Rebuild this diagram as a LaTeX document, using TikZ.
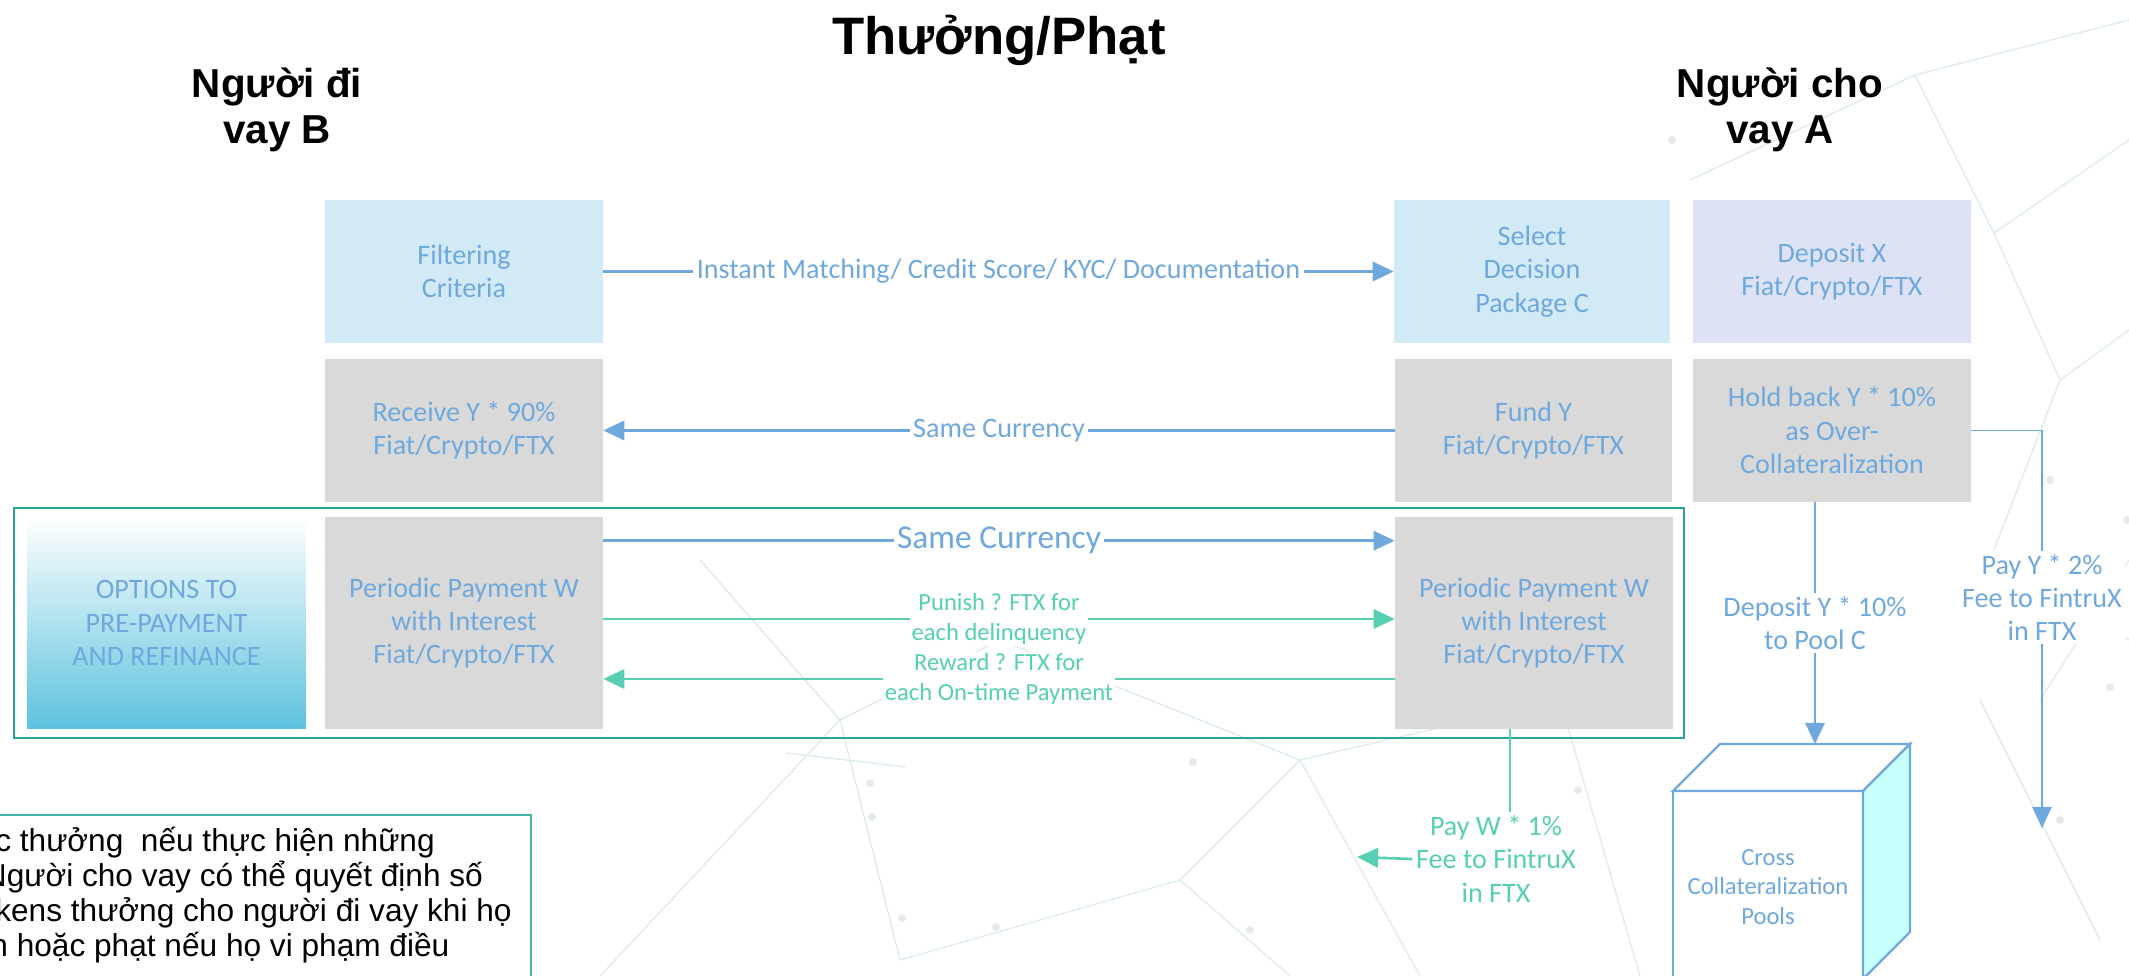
\documentclass[tikz,border=0pt]{standalone}
\usepackage{fontspec}
\setmainfont{Carlito}
\newfontfamily\arialfont{Liberation Sans}
\usetikzlibrary{arrows.meta,positioning,calc}

\definecolor{boxtext}{RGB}{111,168,220}
\definecolor{tealflow}{RGB}{87,207,178}
\definecolor{framegreen}{RGB}{38,166,154}
\definecolor{paleblue}{RGB}{210,233,246}
\definecolor{palelilac}{RGB}{221,227,245}
\definecolor{boxgray}{RGB}{217,217,217}
\definecolor{cubeside}{RGB}{200,255,255}
\definecolor{optcyan}{RGB}{92,194,222}
\definecolor{netline}{RGB}{222,236,234}

\begin{document}
\begin{tikzpicture}[x=0.02cm,y=-0.02cm,
	stepbox/.style={minimum width=5.56cm, minimum height=2.86cm, inner sep=0pt, align=center, text=boxtext, font=\fontsize{16}{19}\selectfont},
	bluebox/.style={stepbox, fill=paleblue},
	lilacbox/.style={stepbox, fill=palelilac},
	graybox/.style={stepbox, fill=boxgray},
	paybox/.style={graybox, minimum height=4.24cm},
	flowlabel/.style={fill=white, inner sep=2pt, align=center, font=\fontsize{16}{19}\selectfont},
	bluearrow/.style={boxtext, line width=1.5pt, -{Triangle[length=12pt,width=11pt]}},
	tealarrow/.style={tealflow, line width=1.5pt, -{Triangle[length=12pt,width=11pt]}},
	heading/.style={align=center, font=\arialfont\bfseries\fontsize{23}{26}\selectfont}]
	\useasboundingbox (0,0) rectangle (2129,976);
	\clip (0,0) rectangle (2129,976);
	% faint network in the background
	\foreach \p/\q in {{(1690,180)}/{(1915,75)}, {(1915,75)}/{(1994,233)}, {(1994,233)}/{(2129,140)}, {(1994,233)}/{(2060,380)}, {(2060,380)}/{(2129,330)}, {(2060,380)}/{(1990,560)}, {(1990,560)}/{(2129,640)}, {(2040,700)}/{(2129,560)}, {(1980,700)}/{(2100,940)}, {(1915,75)}/{(2129,20)},
		{(700,560)}/{(840,720)}, {(840,720)}/{(1000,640)}, {(840,720)}/{(900,960)}, {(900,960)}/{(1180,880)}, {(1180,880)}/{(1300,760)}, {(1180,880)}/{(1290,976)}, {(1300,760)}/{(1560,700)}, {(1000,640)}/{(1300,760)}, {(786,753)}/{(905,767)}, {(1560,700)}/{(1640,976)}, {(600,976)}/{(840,720)}, {(1300,760)}/{(1420,976)}}
		\draw[netline, line width=0.8pt] \p -- \q;
	\foreach \d in {(870,783), (872,817), (902,918), (996,927), (1193,762), (1578,790), (2110,687), (2127,520), (1672,140), (1955,290), (2050,480), (1250,930), (1450,900), (2060,820)}
		\fill[netline!85!black!40] \d circle (4);
	% title and the two sides
	\node[anchor=base, font=\arialfont\bfseries\fontsize{30}{36}\selectfont] (title) at (999,55) {Thưởng/Phạt};
	\node[heading] (borrower) at (277,110) {Người đi\\vay B};
	\node[heading] (lender) at (1780,110) {Người cho\\vay A};
	% boxes
	\node[bluebox] (filter) at (464,271.5) {Filtering\\Criteria};
	\node[bluebox, minimum width=5.52cm] (select) at (1532,271.5) {Select\\Decision\\Package C};
	\node[lilacbox] (depositx) at (1832,271.5) {Deposit X\\Fiat/Crypto/FTX};
	\node[graybox] (receive) at (464,430.5) {Receive Y * 90\%\\Fiat/Crypto/FTX};
	\node[graybox, minimum width=5.54cm] (fund) at (1533.5,430.5) {Fund Y\\Fiat/Crypto/FTX};
	\node[graybox] (holdback) at (1832,430.5) {Hold back Y * 10\%\\as Over-\\Collateralization};
	\draw[framegreen, line width=1.6pt] (14,508) rectangle (1684,738);
	\node[stepbox, minimum height=4.24cm, minimum width=5.58cm, top color=white, middle color=optcyan!28, bottom color=optcyan] (options) at (166.5,623) {OPTIONS TO\\PRE-PAYMENT\\AND REFINANCE};
	\node[paybox] (payleft) at (464,623) {Periodic Payment W\\with Interest\\Fiat/Crypto/FTX};
	\node[paybox] (payright) at (1534,623) {Periodic Payment W\\with Interest\\Fiat/Crypto/FTX};
	% flows between borrower and lender
	\draw[bluearrow] (filter.east) -- node[flowlabel, text=boxtext] {Instant Matching/ Credit Score/ KYC/ Documentation} (select.west);
	\draw[bluearrow] (fund.west) -- node[flowlabel, text=boxtext] {Same Currency} (receive.east);
	\draw[bluearrow] ($(payleft.north east)+(0,24)$) -- node[flowlabel, text=boxtext, font=\fontsize{19}{22}\selectfont] {Same Currency} ($(payright.north west)+(0,24)$);
	\draw[tealarrow] ($(payleft.east)+(0,-4)$) -- node[flowlabel, text=tealflow, font=\fontsize{14}{17}\selectfont, inner sep=1pt] {Punish ? FTX for\\each delinquency} ($(payright.west)+(0,-4)$);
	\draw[tealarrow] ($(payright.west)+(0,56)$) -- node[flowlabel, text=tealflow, font=\fontsize{14}{17}\selectfont, inner sep=1pt] {Reward ? FTX for\\each On-time Payment} ($(payleft.east)+(0,56)$);
	% cross collateralization pool
	\coordinate (cubetop) at (1815,744);
	\draw[boxtext, line width=1.3pt, fill=white] (1673,791) rectangle (1863,1000);
	\draw[boxtext, line width=1.3pt, fill=white] (1673,791) -- (1720,744) -- (1910,744) -- (1863,791) -- cycle;
	\draw[boxtext, line width=1.3pt, fill=cubeside] (1863,791) -- (1910,744) -- (1910,932) -- (1863,979) -- cycle;
	\node[align=center, text=boxtext, font=\fontsize{14}{17}\selectfont] (pool) at (1768,887) {Cross\\Collateralization\\Pools};
	% fees and deposits
	\coordinate (feeend) at (2042,828);
	\draw[bluearrow, line width=1.1pt] (holdback.east) -| node[pos=0.71, flowlabel, text=boxtext] {Pay Y * 2\%\\Fee to FintruX\\in FTX} (feeend);
	\draw[bluearrow, line width=1.1pt] ($(holdback.south)+(-17,0)$) -- node[flowlabel, text=boxtext] {Deposit Y * 10\%\\to Pool C} (cubetop);
	\node[flowlabel, text=tealflow] (payw) at (1496,859) {Pay W * 1\%\\Fee to FintruX\\in FTX};
	\coordinate (paywtop) at ($(payright.south)+(-24,0)$);
	\coordinate (paywend) at (1357,857);
	\draw[tealflow, line width=1.1pt] (paywtop) -- (paywtop |- payw.north);
	\draw[tealarrow] (payw.west) -- (paywend);
	% note box, cut by the page edge
	\draw[framegreen!85, line width=1.3pt, fill=white] (-10,815) rectangle (531,1000);
	\node[anchor=north west, align=left, inner sep=0pt, font=\arialfont\fontsize{18}{19.8}\selectfont] (note) at (-5,827) {c thưởng\ \ nếu thực hiện những\\\hspace*{-6.5pt}Người cho vay có thể quyết định số\\kens thưởng cho người đi vay khi họ\\\hspace*{-2.8pt}n hoặc phạt nếu họ vi phạm điều};
\end{tikzpicture}
\end{document}
